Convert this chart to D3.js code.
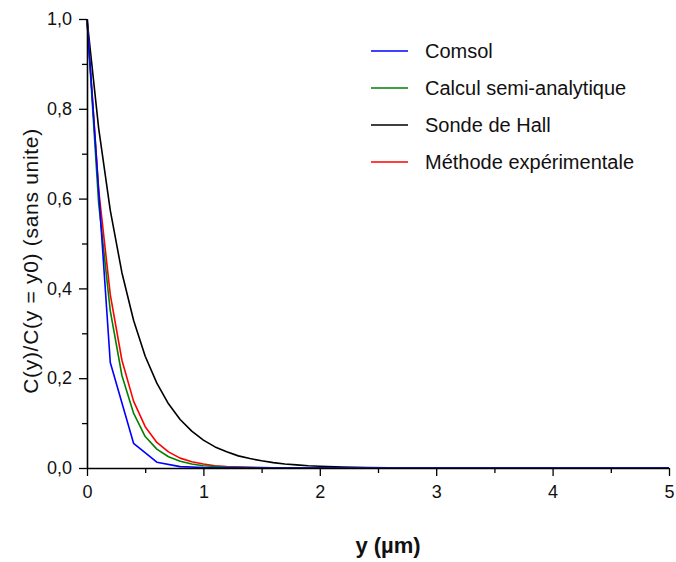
<!DOCTYPE html>
<html lang="fr">
<head>
<meta charset="utf-8">
<title>C(y)/C(y0)</title>
<style>
  body { margin: 0; background: #fff; }
  text { font-family: "Liberation Sans", Arial, sans-serif; fill: #111; }
</style>
</head>
<body>
<script src="https://cdn.jsdelivr.net/npm/d3@7"></script>
<script>
// x positions (µm) and values
const comsolX = [0, 0.2, 0.4, 0.6, 0.8, 1.0, 1.5, 2, 3, 4, 5];
const comsolY = [1, 0.235, 0.055, 0.013, 0.003, 0.001, 0, 0, 0, 0, 0];

const semiX = [0, 0.1, 0.2, 0.3, 0.4, 0.5, 0.6, 0.7, 0.8, 0.9, 1.0, 1.2, 1.4, 1.6, 2.0, 5];
const semiY = [1, 0.59, 0.35, 0.206, 0.122, 0.07, 0.042, 0.025, 0.015, 0.009, 0.005, 0.002, 0.001, 0.0003, 0, 0];

const hallX = [0, 0.1, 0.2, 0.3, 0.4, 0.5, 0.6, 0.7, 0.8, 0.9, 1.0, 1.1, 1.2, 1.3, 1.4, 1.5, 1.6, 1.7, 1.8, 1.9, 2.0, 2.2, 2.4, 2.6, 3.0, 4, 5];
const hallY = [1, 0.757, 0.574, 0.435, 0.329, 0.249, 0.189, 0.143, 0.108, 0.082, 0.062, 0.047, 0.036, 0.027, 0.021, 0.016, 0.012, 0.009, 0.007, 0.005, 0.004, 0.002, 0.001, 0.0006, 0.0002, 0, 0];

const expX = [0, 0.1, 0.2, 0.3, 0.4, 0.5, 0.6, 0.7, 0.8, 0.9, 1.0, 1.1, 1.2, 1.4, 1.6, 2.0, 5];
const expY = [1, 0.62, 0.386, 0.24, 0.149, 0.092, 0.057, 0.036, 0.022, 0.014, 0.009, 0.005, 0.003, 0.0013, 0.0005, 0.0001, 0];

const xTicks = [0, 1, 2, 3, 4, 5];
const yTicks = [0, 0.2, 0.4, 0.6, 0.8, 1.0];

const series = [
  { name: "Sonde de Hall", color: "#000000", xs: hallX, ys: hallY, row: 2 },
  { name: "Méthode expérimentale", color: "#ff0000", xs: expX, ys: expY, row: 3 },
  { name: "Calcul semi-analytique", color: "#008000", xs: semiX, ys: semiY, row: 1 },
  { name: "Comsol", color: "#0000ff", xs: comsolX, ys: comsolY, row: 0 }
];

const W = 676, H = 562;
const svg = d3.select("body").append("svg")
  .attr("width", W)
  .attr("height", H);

const x = d3.scaleLinear().domain([0, 5]).range([87, 669]);
const y = d3.scaleLinear().domain([0, 1]).range([468, 19]);

const fmt = d => d3.format(".1f")(d).replace(".", ",");

// minor ticks
svg.append("g")
  .attr("transform", "translate(0,468)")
  .call(d3.axisBottom(x).tickValues(d3.range(0.5, 5, 1)).tickSize(5).tickFormat(""))
  .call(g => g.select(".domain").remove())
  .call(g => g.selectAll("line").attr("stroke-width", 1.3));
svg.append("g")
  .attr("transform", "translate(87,0)")
  .call(d3.axisLeft(y).tickValues(d3.range(0.1, 1, 0.2)).tickSize(5).tickFormat(""))
  .call(g => g.select(".domain").remove())
  .call(g => g.selectAll("line").attr("stroke-width", 1.3));

// curves
const line = d3.line().x(d => x(d[0])).y(d => y(d[1]));
series.forEach(s => {
  svg.append("path")
    .datum(s.xs.map((v, i) => [v, s.ys[i]]))
    .attr("fill", "none")
    .attr("stroke", s.color)
    .attr("stroke-width", 1.6)
    .attr("stroke-linejoin", "round")
    .attr("d", line);
});

// axes
svg.append("g")
  .attr("transform", "translate(0,468)")
  .call(d3.axisBottom(x).tickValues(xTicks).tickSize(8).tickSizeOuter(0).tickPadding(9).tickFormat(d3.format("d")))
  .call(g => g.select(".domain").attr("stroke-width", 1.6))
  .call(g => g.selectAll("line").attr("stroke-width", 1.3))
  .call(g => g.selectAll("text").attr("font-size", 18).attr("font-family", null));

svg.append("g")
  .attr("transform", "translate(87,0)")
  .call(d3.axisLeft(y).tickValues(yTicks).tickSize(8).tickSizeOuter(0).tickPadding(7).tickFormat(fmt))
  .call(g => g.select(".domain").attr("stroke-width", 1.6))
  .call(g => g.selectAll("line").attr("stroke-width", 1.3))
  .call(g => g.selectAll("text").attr("font-size", 18).attr("font-family", null));

// axis titles
svg.append("text")
  .attr("x", 388)
  .attr("y", 553)
  .attr("text-anchor", "middle")
  .attr("font-size", 22)
  .attr("font-weight", "bold")
  .text("y (µm)");

svg.append("text")
  .attr("transform", "translate(38,261) rotate(-90)")
  .attr("text-anchor", "middle")
  .attr("font-size", 21)
  .attr("letter-spacing", 0.7)
  .text("C(y)/C(y = y0) (sans unite)");

// legend
const rowY = [51, 88, 125, 162];
const legend = svg.append("g");
series.forEach(s => {
  legend.append("line")
    .attr("x1", 371).attr("x2", 408)
    .attr("y1", rowY[s.row]).attr("y2", rowY[s.row])
    .attr("stroke", s.color)
    .attr("stroke-width", 1.6);
  legend.append("text")
    .attr("x", 425)
    .attr("y", rowY[s.row] + 7)
    .attr("font-size", 20)
    .text(s.name);
});
</script>
</body>
</html>
